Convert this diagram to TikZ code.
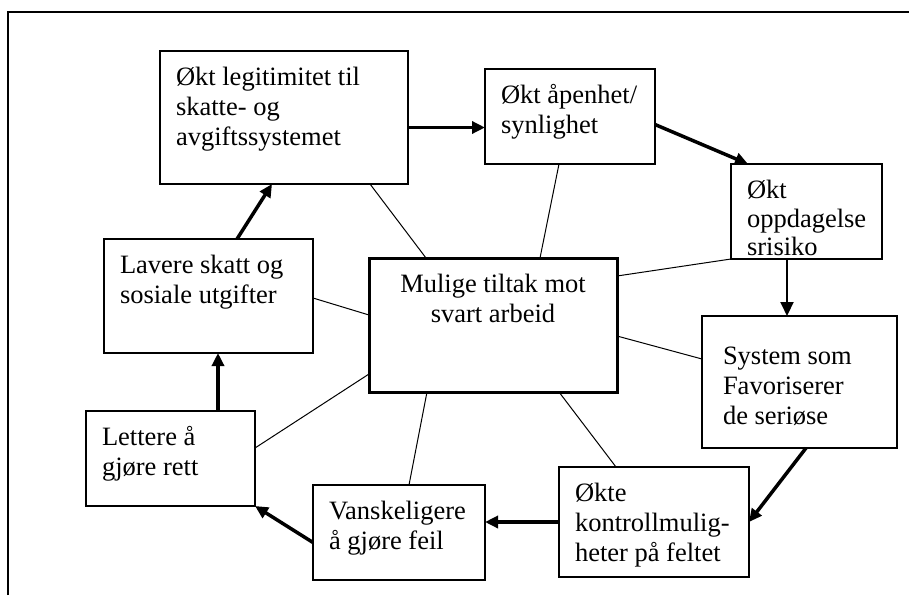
\documentclass[tikz,border=0pt]{standalone}
\usepackage{fontspec}
\setmainfont{Liberation Serif}
\usetikzlibrary{arrows.meta}

\newcommand{\boxtext}[4][0pt]{\parbox[c][#3pt][t]{#2pt}{\raggedright\vspace*{#1}\strut #4}}

\begin{document}
\begin{tikzpicture}[x=1pt,y=-1pt,
    every node/.style={font=\fontsize{26.5}{30}\selectfont},
    box/.style={draw,line width=1.2pt,anchor=north west,inner xsep=16pt,inner ysep=13pt,outer sep=0pt},
    mainbox/.style={box,line width=3pt},
    link/.style={line width=1pt},
    flow/.style={line width=3.5pt,-{Triangle[length=13pt,width=12pt]}},
    flowthin/.style={line width=2pt,-{Triangle[length=14pt,width=13pt]}}]
    \useasboundingbox (0,0) rectangle (909,595);
    \draw[line width=2pt] (8,595) -- (8,12) -- (909,12);
    % boxes
    \node[box] (legit) at (160,51) {\boxtext{216}{107}{Økt legitimitet til\\skatte- og\\avgiftssystemet}};
    \node[box] (open) at (485,69) {\boxtext{138}{69}{Økt åpenhet/\\synlighet}};
    \node[box,inner ysep=15pt,font=\fontsize{26.5}{28.5}\selectfont] (detect) at (731,164) {\boxtext{119}{65}{Økt\\oppdagelse\\srisiko}};
    \node[mainbox] (mulige) at (369,258) {\boxtext{216}{108}{\centering Mulige tiltak mot\\svart arbeid}};
    \node[box] (lavere) at (104,239) {\boxtext{177}{88}{Lavere skatt og\\sosiale utgifter}};
    \node[box] (lettere) at (86,411) {\boxtext{137}{69}{Lettere å\\gjøre rett}};
    \node[box] (vansk) at (313,485) {\boxtext{140}{69}{Vanskeligere\\å gjøre feil}};
    \node[box] (okte) at (559,467) {\boxtext{158}{84}{Økte\\kontrollmulig-\\heter på feltet}};
    \node[box,inner xsep=21pt] (system) at (702,316) {\boxtext[14pt]{153}{106}{System som\\Favoriserer\\de seriøse}};
    % circle of arrows
    \draw[flow] ([yshift=-10pt]legit.east) -- ([yshift=-10pt]legit.east -| open.west);
    \draw[flow] ([yshift=-8pt]open.east) -- ([xshift=17pt]detect.north west);
    \draw[flowthin] ([xshift=56pt]detect.south west) -- ([xshift=56pt]detect.south west |- system.north);
    \draw[flow] ([xshift=104pt]system.south west) -- (okte.east);
    \draw[flow] (okte.west) -- (okte.west -| vansk.east);
    \draw[flow] ([yshift=-10pt]vansk.west) -- (lettere.south east);
    \draw[flow] ([xshift=132pt]lettere.north west) -- ([xshift=132pt]lettere.north west |- lavere.south);
    \draw[flow] ([xshift=133pt]lavere.north west) -- ([xshift=112pt]legit.south west);
    % spokes
    \draw[link] ([xshift=57pt]mulige.north west) -- ([xshift=210pt]legit.south west);
    \draw[link] ([xshift=171pt]mulige.north west) -- ([xshift=74pt]open.south west);
    \draw[link] ([yshift=-18pt]mulige.north east) -- (detect.south west);
    \draw[link] ([yshift=-78pt]mulige.north east) -- ([yshift=-43pt]system.north west);
    \draw[link] ([xshift=190pt]mulige.south west) -- ([xshift=57pt]okte.north west);
    \draw[link] ([xshift=58pt]mulige.south west) -- ([xshift=96pt]vansk.north west);
    \draw[link] ([yshift=-116pt]mulige.north west) -- ([yshift=-37pt]lettere.north east);
    \draw[link] ([yshift=-57pt]mulige.north west) -- ([yshift=-59pt]lavere.north east);
\end{tikzpicture}
\end{document}
